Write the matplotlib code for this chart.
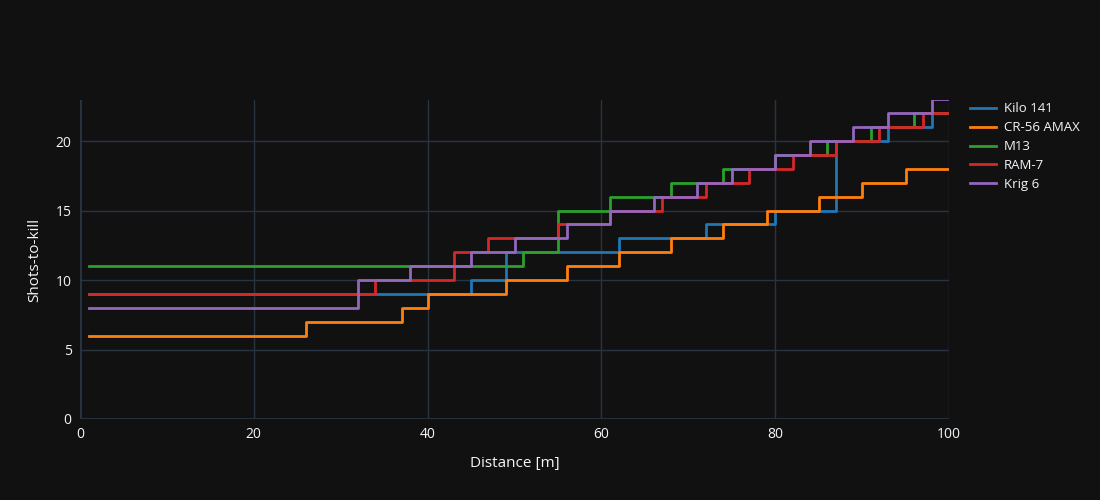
import matplotlib
matplotlib.use("Agg")
import matplotlib.pyplot as plt

names = ["Kilo 141", "CR-56 AMAX", "M13", "RAM-7", "Krig 6"]
colors = ["#1f77b4", "#ff7f0e", "#2ca02c", "#d62728", "#9467bd"]

# distance where shots-to-kill changes, and new value
kilo_d = [1, 45, 49, 62, 72, 80, 87, 93, 98]
kilo_s = [9, 10, 12, 13, 14, 15, 20, 21, 22]
cr56_d = [1, 26, 37, 40, 49, 56, 62, 68, 74, 79, 85, 90, 95]
cr56_s = [6, 7, 8, 9, 10, 11, 12, 13, 14, 15, 16, 17, 18]
m13_d = [1, 51, 55, 61, 68, 74, 80, 86, 91, 96]
m13_s = [11, 12, 15, 16, 17, 18, 19, 20, 21, 22]
ram7_d = [1, 34, 43, 47, 55, 61, 67, 72, 77, 82, 87, 92, 97]
ram7_s = [9, 10, 12, 13, 14, 15, 16, 17, 18, 19, 20, 21, 22]
krig_d = [1, 32, 38, 45, 50, 56, 61, 66, 71, 75, 80, 84, 89, 93, 98]
krig_s = [8, 10, 11, 12, 13, 14, 15, 16, 17, 18, 19, 20, 21, 22, 23]

series = [(kilo_d, kilo_s), (cr56_d, cr56_s), (m13_d, m13_s), (ram7_d, ram7_s), (krig_d, krig_s)]

plt.rcParams['font.family'] = ['Open Sans', 'DejaVu Sans']
bg = "#111111"
fig = plt.figure(figsize=(11, 5), dpi=100, facecolor=bg)
ax = fig.add_axes([80/1100, 81/500, 869/1100, 319/500], facecolor=bg)

for (d, s), name, c in zip(series, names, colors):
    ax.step(d + [100], s + [s[-1]], where='post', color=c, lw=2, label=name)

ax.set_xlim(0, 100)
ax.set_ylim(0, 22.95)
ax.set_xticks([0, 20, 40, 60, 80, 100])
ax.set_yticks([0, 5, 10, 15, 20])
ax.grid(color="#283442", lw=1)
ax.set_axisbelow(True)
for sp in ax.spines.values():
    sp.set_visible(False)
ax.axhline(0, color="#283442", lw=2, zorder=0)
ax.axvline(0, color="#283442", lw=2, zorder=0)
ax.tick_params(colors="#f2f5fa", length=0, labelsize=10, pad=6)
ax.set_xlabel("Distance [m]", color="#f2f5fa", fontsize=11, labelpad=10)
ax.set_ylabel("Shots-to-kill", color="#f2f5fa", fontsize=11, labelpad=10)

leg = ax.legend(loc='upper left', bbox_to_anchor=(1.01, 1.03), frameon=False,
                fontsize=9.5, handlelength=2.0, handletextpad=0.6, labelspacing=0.45)
for t in leg.get_texts():
    t.set_color("#f2f5fa")

fig.savefig("out.png", facecolor=bg)
